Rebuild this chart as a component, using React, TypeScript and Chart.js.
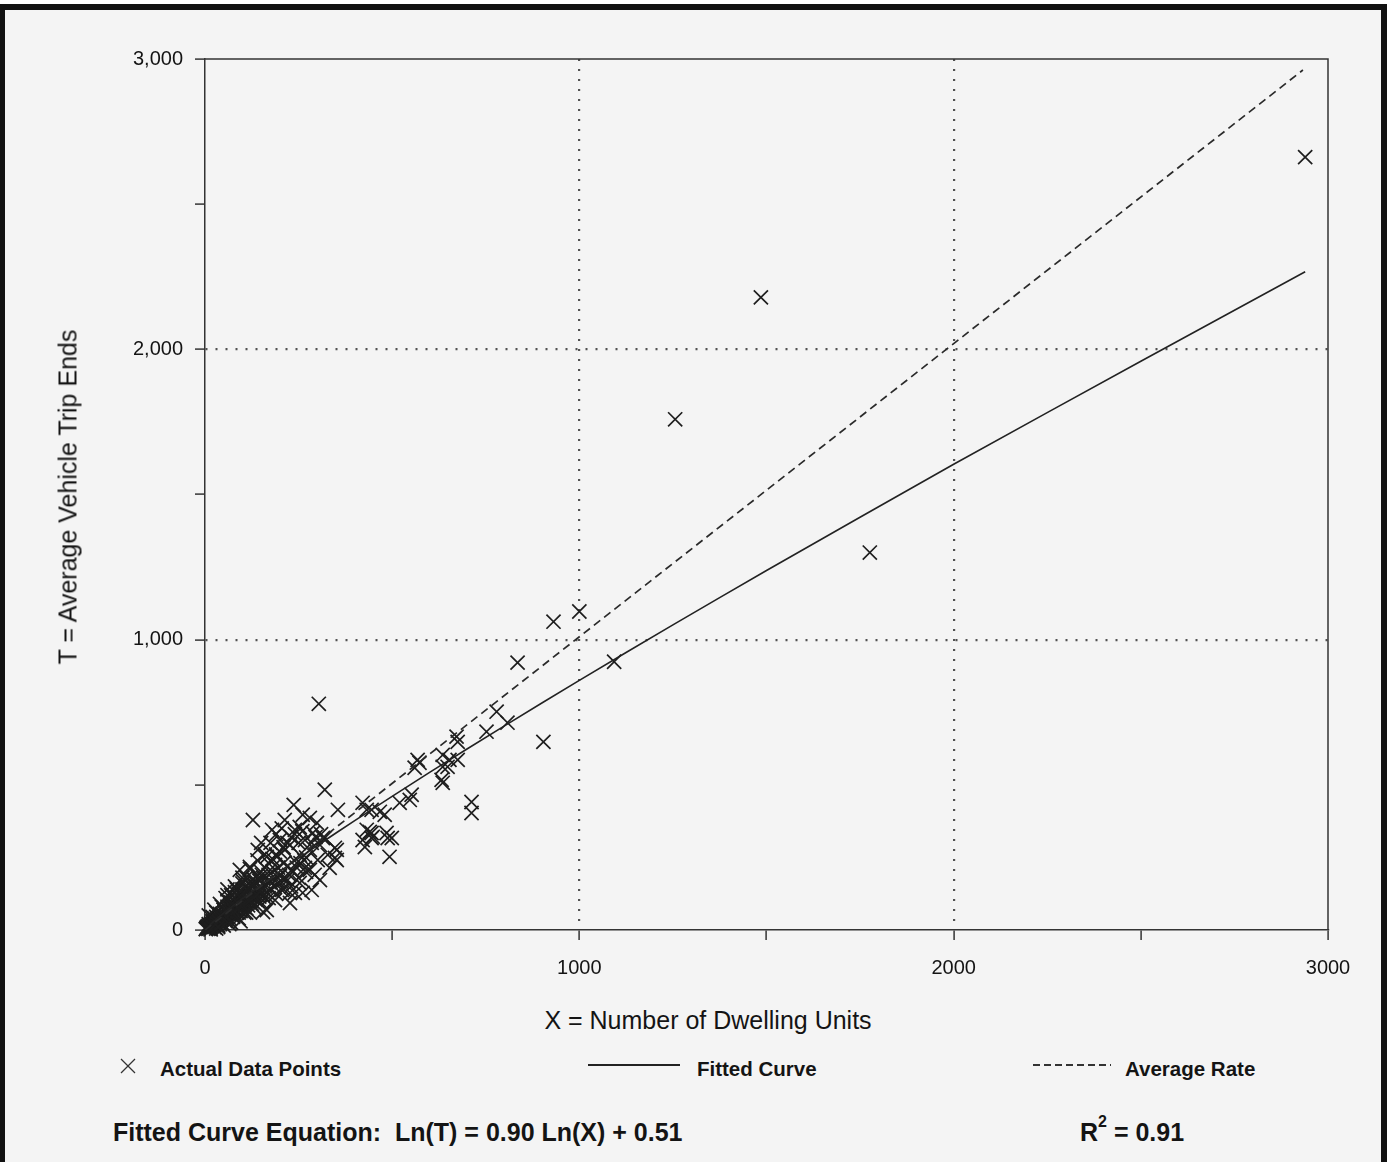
import React, { useEffect, useRef } from "react";
import { Chart, registerables } from "chart.js";

Chart.register(...registerables);

// Actual data points: X = number of dwelling units, T = average vehicle trip ends
const pointsX: number[] = [
  2939, 1485, 1256, 1776, 1000, 931, 1093, 835, 904, 304, 779, 808, 752,
  672, 675, 635, 653, 675, 635, 632, 568, 560, 573, 648, 635,
  320, 355, 421, 432, 445, 467, 480, 520, 547, 552, 712, 712,
  440, 445, 427, 488, 493, 347, 347, 320, 237, 128,
  432, 445, 448, 421, 485, 499,
  179, 213, 261, 280, 299, 253, 288, 315, 352, 352, 141, 165, 192, 93, 120, 245, 280, 293, 221, 253, 261, 227, 165,
  200, 227, 267, 240, 213, 187, 253, 280, 232, 200, 267, 301, 307, 152, 133, 173, 205, 240, 147, 115, 187, 285, 307, 328, 333, 155, 227,
  5, 8, 10, 12, 15, 18, 20, 22, 25, 28, 30, 32, 35, 38, 40, 42, 45, 48, 50, 52, 55, 58, 60, 62, 65, 68, 70, 72, 75, 78,
  80, 82, 85, 88, 90, 92, 95, 98, 100, 105, 108, 110, 115, 118, 120, 125, 130, 135, 140, 145, 150, 155, 160, 170, 175, 180, 190, 195, 200, 210,
  20, 30, 45, 60, 70, 85, 100, 110, 40, 55, 75, 90, 110, 125, 140, 160, 105, 3, 6, 14, 25, 35, 50, 65,
  10, 15, 20, 25, 30, 35, 40, 45, 50, 55, 60, 65,
  70, 75, 80, 85, 90, 95, 100, 105, 110, 115, 120, 125, 130, 135, 140, 145, 150, 155,
  160, 165, 170, 175, 180, 185, 190, 195, 200, 205, 210, 215, 220, 225, 230, 235, 240, 245, 250, 255, 260, 265,
  60, 80, 100, 120, 140, 160, 110, 130, 150, 170, 190, 210, 230, 250, 270, 270, 285, 295, 310, 175, 190, 205, 150,
  2, 4, 7, 9, 11, 13, 16, 19, 21, 24, 27, 29, 33, 36, 39, 43, 46, 49, 53, 57,
  61, 64, 67, 71, 74, 77, 83, 87, 91, 96, 102, 107, 112, 117, 122, 128, 133, 138, 143, 148,
  10, 25, 40, 55, 30, 50, 70, 90, 120, 80, 100, 60, 15, 35, 65, 95
];
const pointsT: number[] = [
  2662, 2179, 1759, 1300, 1097, 1062, 924, 921, 648, 779, 752, 714, 683,
  666, 648, 603, 586, 586, 562, 517, 586, 559, 576, 562, 507,
  483, 414, 438, 414, 414, 407, 397, 438, 448, 466, 441, 403,
  338, 317, 286, 317, 252, 283, 248, 317, 431, 379,
  345, 334, 321, 310, 334, 317,
  345, 379, 397, 386, 369, 355, 334, 317, 276, 241, 276, 252, 252, 207, 217, 231, 207, 190, 172, 162, 128, 93, 69,
  310, 293, 310, 345, 276, 224, 259, 276, 207, 190, 214, 241, 293, 190, 155, 172, 138, 128, 121, 103, 103, 138, 172, 259, 214, 62, 128,
  8, 12, 6, 15, 10, 20, 14, 25, 18, 30, 22, 35, 28, 40, 32, 45, 38, 52, 42, 58, 48, 62, 55, 70, 58, 75, 62, 80, 68, 88,
  72, 95, 78, 100, 85, 110, 90, 118, 95, 125, 100, 135, 110, 140, 118, 150, 125, 160, 135, 170, 145, 180, 150, 190, 165, 200, 175, 215, 185, 230,
  45, 60, 80, 100, 120, 140, 160, 180, 20, 30, 45, 60, 75, 90, 100, 110, 60, 4, 10, 8, 40, 15, 70, 30,
  20, 5, 30, 10, 45, 15, 55, 25, 70, 35, 80, 40,
  95, 50, 110, 60, 125, 65, 140, 80, 150, 85, 165, 100, 175, 105, 190, 115, 200, 120,
  215, 130, 230, 140, 245, 150, 260, 160, 270, 165, 285, 175, 300, 190, 320, 200, 330, 215, 300, 230, 340, 240,
  120, 150, 180, 210, 240, 260, 60, 80, 95, 110, 125, 140, 150, 180, 200, 250, 300, 320, 330, 300, 330, 350, 300,
  3, 7, 11, 4, 17, 9, 22, 13, 28, 19, 34, 24, 42, 30, 48, 36, 55, 41, 64, 47,
  72, 53, 85, 60, 92, 66, 105, 75, 115, 82, 128, 92, 140, 100, 155, 112, 165, 122, 178, 132,
  50, 70, 90, 110, 5, 15, 25, 40, 60, 130, 170, 140, 2, 10, 20, 30
];

// Fitted curve: Ln(T) = 0.90 Ln(X) + 0.51 (as drawn)
const fittedX: number[] = [10, 25, 50, 100, 200, 300, 400, 600, 800, 1000, 1250, 1500, 2000, 2500, 2939];
const fittedT: number[] = [13.6, 31.1, 58, 108, 202, 291, 377, 543, 703, 860, 1051, 1238, 1604, 1959, 2267];

// Average rate line
const averageX: number[] = [0, 2933];
const averageT: number[] = [0, 2962];

const yTickLabels: Record<number, string> = { 0: "0", 1000: "1,000", 2000: "2,000", 3000: "3,000" };
const xTickLabels: Record<number, string> = { 0: "0", 1000: "1000", 2000: "2000", 3000: "3000" };

const FONT = "'Liberation Sans', Arial, Helvetica, sans-serif";
const INK = "#141414";

const framePlugin = {
  id: "frame",
  beforeDatasetsDraw(chart: any) {
    const { ctx, chartArea } = chart;
    ctx.save();
    ctx.strokeStyle = "#333";
    ctx.lineWidth = 1.5;
    ctx.beginPath();
    ctx.moveTo(chartArea.left, chartArea.top);
    ctx.lineTo(chartArea.right, chartArea.top);
    ctx.lineTo(chartArea.right, chartArea.bottom);
    ctx.stroke();
    ctx.restore();
  },
};

function App() {
  const canvasRef = useRef<HTMLCanvasElement | null>(null);

  useEffect(() => {
    if (!canvasRef.current) return;
    const gridColor = (ctx: any) =>
      ctx.tick && (ctx.tick.value === 1000 || ctx.tick.value === 2000) ? "#505050" : "rgba(0,0,0,0)";
    const chart = new Chart(canvasRef.current, {
      type: "scatter",
      data: {
        datasets: [
          {
            label: "Actual Data Points",
            data: pointsX.map((x, i) => ({ x, y: pointsT[i] })),
            pointStyle: "crossRot",
            pointRadius: 10,
            pointBorderWidth: 1.7,
            borderColor: "#1e1e1e",
            backgroundColor: "#1e1e1e",
            showLine: false,
            clip: false,
            order: 3,
          } as any,
          {
            label: "Fitted Curve",
            data: fittedX.map((x, i) => ({ x, y: fittedT[i] })),
            showLine: true,
            pointRadius: 0,
            borderColor: "#222",
            borderWidth: 1.6,
            tension: 0.2,
            order: 2,
          } as any,
          {
            label: "Average Rate",
            data: averageX.map((x, i) => ({ x, y: averageT[i] })),
            showLine: true,
            pointRadius: 0,
            borderColor: "#2a2a2a",
            borderWidth: 1.7,
            borderDash: [8, 5],
            order: 1,
          } as any,
        ],
      },
      options: {
        responsive: false,
        animation: false,
        devicePixelRatio: 1,
        layout: { padding: { left: 0, top: 59, right: 59, bottom: 0 } },
        plugins: { legend: { display: false }, tooltip: { enabled: false } },
        scales: {
          x: {
            type: "linear",
            position: "bottom",
            min: 0,
            max: 3000,
            afterFit: (scale: any) => {
              scale.height = 70;
            },
            ticks: {
              stepSize: 500,
              autoSkip: false,
              maxRotation: 0,
              padding: 16,
              color: INK,
              font: { family: FONT, size: 20 },
              callback: (v: any) => (xTickLabels[v] !== undefined ? xTickLabels[v] : ""),
            },
            grid: {
              color: gridColor,
              lineWidth: 2.2,
              tickColor: "#333",
              tickWidth: 1.5,
              tickLength: 10,
              drawTicks: true,
            },
            border: { display: true, color: "#333", width: 1.5, dash: [2, 8] },
          },
          y: {
            type: "linear",
            position: "left",
            min: 0,
            max: 3000,
            afterFit: (scale: any) => {
              scale.width = 205;
            },
            ticks: {
              stepSize: 500,
              autoSkip: false,
              padding: 12,
              color: INK,
              font: { family: FONT, size: 20 },
              callback: (v: any) => (yTickLabels[v] !== undefined ? yTickLabels[v] : ""),
            },
            grid: {
              color: gridColor,
              lineWidth: 2.2,
              tickColor: "#333",
              tickWidth: 1.5,
              tickLength: 10,
              drawTicks: true,
            },
            border: { display: true, color: "#333", width: 1.5, dash: [2, 8] },
          },
        },
      } as any,
      plugins: [framePlugin],
    });
    return () => chart.destroy();
  }, []);

  const text: React.CSSProperties = { position: "absolute", fontFamily: FONT, color: INK, whiteSpace: "nowrap", lineHeight: 1 };

  return (
    <div style={{ position: "absolute", left: 0, top: 0, width: 1387, height: 1162, overflow: "hidden", background: "#fff" }}>
      <div
        style={{
          position: "absolute",
          left: 0,
          top: 4,
          width: 1387,
          height: 1200,
          boxSizing: "border-box",
          borderLeft: "5px solid #111",
          borderRight: "6px solid #111",
          borderTop: "6px solid #111",
          background: "#f4f4f4",
        }}
      />
      <canvas
        ref={canvasRef}
        width={1387}
        height={1000}
        style={{ position: "absolute", left: 0, top: 0, width: 1387, height: 1000 }}
      />
      <div style={{ ...text, fontSize: 25, left: 68, top: 497, transform: "translate(-50%, -50%) rotate(-90deg)" }}>
        T = Average Vehicle Trip Ends
      </div>
      <div style={{ ...text, fontSize: 25, left: 708, top: 1020, transform: "translate(-50%, -50%)" }}>
        X = Number of Dwelling Units
      </div>

      {/* Legend */}
      <svg style={{ position: "absolute", left: 118, top: 1056 }} width={20} height={20}>
        <line x1={3} y1={3} x2={17} y2={17} stroke="#333" strokeWidth={1.3} />
        <line x1={17} y1={3} x2={3} y2={17} stroke="#333" strokeWidth={1.3} />
      </svg>
      <div style={{ ...text, fontSize: 20.5, fontWeight: "bold", left: 160, top: 1069, transform: "translateY(-50%)" }}>
        Actual Data Points
      </div>
      <svg style={{ position: "absolute", left: 586, top: 1060 }} width={96} height={10}>
        <line x1={2} y1={5} x2={94} y2={5} stroke="#222" strokeWidth={2} />
      </svg>
      <div style={{ ...text, fontSize: 20.5, fontWeight: "bold", left: 697, top: 1069, transform: "translateY(-50%)" }}>
        Fitted Curve
      </div>
      <svg style={{ position: "absolute", left: 1031, top: 1060 }} width={82} height={10}>
        <line x1={2} y1={5} x2={80} y2={5} stroke="#333" strokeWidth={2} strokeDasharray="7 4" />
      </svg>
      <div style={{ ...text, fontSize: 20.5, fontWeight: "bold", left: 1125, top: 1069, transform: "translateY(-50%)" }}>
        Average Rate
      </div>

      <div style={{ ...text, fontSize: 25, fontWeight: "bold", left: 113, top: 1132, transform: "translateY(-50%)" }}>
        Fitted Curve Equation:&nbsp; Ln(T) = 0.90 Ln(X) + 0.51
      </div>
      <div style={{ ...text, fontSize: 25, fontWeight: "bold", left: 1080, top: 1132, transform: "translateY(-50%)" }}>
        R<sup style={{ fontSize: 16, verticalAlign: "top", position: "relative", top: -6 }}>2</sup> = 0.91
      </div>
    </div>
  );
}

export default App;
